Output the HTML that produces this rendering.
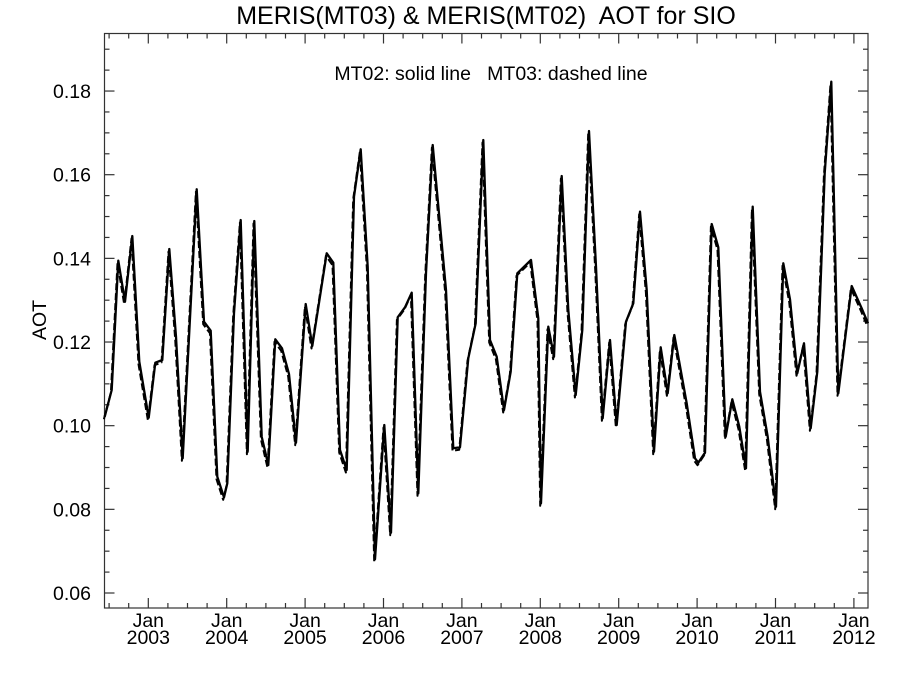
<!DOCTYPE html>
<html><head><meta charset="utf-8"><style>
html,body{margin:0;padding:0;background:#fff;}
svg{display:block;}
text{font-family:"Liberation Sans",Arial,sans-serif;fill:#000;white-space:pre;}
</style></head><body>
<svg width="900" height="675" viewBox="0 0 900 675" xmlns="http://www.w3.org/2000/svg" xml:space="preserve">
<rect width="900" height="675" fill="#fff"/>
<text x="486" y="24" font-size="25" text-anchor="middle">MERIS(MT03) &amp; MERIS(MT02)  AOT for SIO</text>
<text x="491" y="80" font-size="19.5" text-anchor="middle">MT02: solid line   MT03: dashed line</text>
<text x="46" y="320" font-size="19.5" text-anchor="middle" transform="rotate(-90 46 320)">AOT</text>
<g id="ax" stroke="#333" stroke-width="1.2" fill="none"></g>
<g id="lab" font-size="19.5"></g>
<polyline id="dash" fill="none" stroke="#000" stroke-width="2" stroke-dasharray="7,3" stroke-linejoin="round"/>
<polyline id="solid" fill="none" stroke="#000" stroke-width="2.3" stroke-linejoin="round"/>
</svg>
<script>
var NS="http://www.w3.org/2000/svg";
var ax=document.getElementById("ax"),lab=document.getElementById("lab");
var L=104.5,R=868,T=33.5,B=608;
function ln(x1,y1,x2,y2){var e=document.createElementNS(NS,"line");e.setAttribute("x1",x1);e.setAttribute("y1",y1);e.setAttribute("x2",x2);e.setAttribute("y2",y2);ax.appendChild(e);}
function tx(x,y,s,a){var e=document.createElementNS(NS,"text");e.setAttribute("x",x);e.setAttribute("y",y);e.setAttribute("text-anchor",a);e.textContent=s;lab.appendChild(e);}
var r=document.createElementNS(NS,"rect");r.setAttribute("x",L);r.setAttribute("y",T);r.setAttribute("width",R-L);r.setAttribute("height",B-T);ax.appendChild(r);
for(var i=0;i<=26;i++){var v=0.06+i*0.005;var y=593-(v-0.06)*4183;if(y<T)break;var len=(i%4==0)?10:5;
 ln(L,y,L+len,y);ln(R,y,R-len,y);
 if(i%4==0)tx(91,y+7,v.toFixed(2),"end");}
for(var q=-2;q<=36;q++){var x=148.3+q*78.4/4;if(x<L||x>R)continue;var len=(q%4==0)?10:5;
 ln(x,B,x,B-len);ln(x,T,x,T+len);
 if(q%4==0){var yr=2003+q/4;tx(x,627,"Jan","middle");tx(x,644,String(yr),"middle");}}
var P=[[104.7,416.7],[111.7,390],[118.3,260.7],[125,301.7],[132.3,236],[139.3,361.7],[148.7,417.7],[155.3,362.7],[162.3,360],[169.3,249],[176,336.7],[182.7,458.3],[196.7,189.3],[204,321.7],[210.7,330.7],[217.3,476.7],[224,497.3],[227.3,483.3],[234,313.3],[240.7,220],[247.7,451.7],[254.3,221],[261.7,436.7],[268.3,465],[275.3,339.3],[282,348.3],[289,374],[296,442.7],[305.7,304],[312.3,346],[326.7,253.3],[333.3,262.7],[340,450],[346.7,470],[354,196.7],[360.7,149.3],[367.7,266.7],[375,559.3],[384.3,425],[391,532.7],[397.7,317.3],[405,307.3],[411.7,292.7],[418.3,493.3],[426,273.3],[432.7,145],[439.3,216.7],[446,290],[453.3,448.3],[460,447.3],[468.3,358.3],[475.7,323.3],[483.3,140],[490,340],[496.7,356.7],[504,410],[510.7,371.7],[517.3,273.3],[531,260],[538.3,318.3],[541,503.3],[548.3,326.7],[554,356.7],[561.7,176],[568.3,310],[575.7,395],[582.3,330],[589,131],[596,266.7],[602.7,418.3],[610,340],[616.7,425],[626,321.7],[633.3,303.3],[640,211.7],[646.7,290],[654,451.7],[660.7,347.3],[667.7,393.3],[674.3,335],[678.3,356.7],[686.7,403.3],[695,458.3],[698.3,462.7],[705,452.7],[711.7,224],[718.3,247.3],[725.7,436.7],[732.3,399.3],[739.3,426.7],[746,468.3],[752.7,206.7],[760,391.7],[767.7,436.7],[776,506.7],[783.3,263.3],[790,299.3],[797.3,373.3],[804,343.3],[810.7,428.3],[817.3,371.7],[824.7,173.3],[831.3,81.7],[838.3,393.3],[851.7,286],[861.7,308.3],[868,323.3]];
document.getElementById("solid").setAttribute("points",P.map(function(p){return p[0]+","+p[1];}).join(" "));
document.getElementById("dash").setAttribute("points",P.map(function(p){return (p[0]-0.8)+","+(p[1]+2.5);}).join(" "));
</script>
</body></html>
